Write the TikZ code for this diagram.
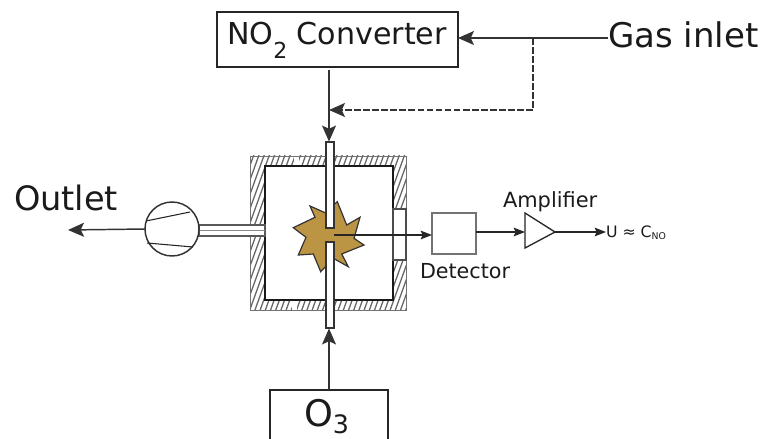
\documentclass[tikz,border=0pt]{standalone}
\usepackage{fontspec}
\setmainfont{DejaVu Sans}
\usetikzlibrary{arrows.meta}
\definecolor{txt}{HTML}{1A1A1A}
\definecolor{star}{HTML}{BC9544}
\tikzset{
  px/.style={x=0.75pt,y=-0.75pt},
  box/.style={draw=black!85,line width=1.5pt,fill=white,inner sep=0pt,outer sep=0pt,text=txt},
  part/.style={draw=black!80,line width=1.1pt,fill=white,inner sep=0pt,outer sep=0pt},
  lbl/.style={inner sep=0pt,outer sep=0pt,text=txt},
  flow/.style={draw=black!80,line width=1.1pt,-{Stealth[length=12pt,width=10.5pt,inset=2.5pt]}},
  flowsmall/.style={draw=black!85,line width=1.1pt,-{Stealth[length=8.5pt,width=6.5pt,inset=1.5pt]}},
  hatch/.style={draw=black!60,line width=0.95pt}
}
\begin{document}
\begin{tikzpicture}[px]
\useasboundingbox (0,0) rectangle (762,438);
\fill[white] (0,0) rectangle (762,438);
% chamber wall
\begin{scope}
  \clip (250,156) rectangle (406,310);
  \foreach \k in {0,5.2,...,260} {\draw[hatch] ({250+\k-70},316) -- ({250+\k-10},150);}
  \fill[white] (294,155) rectangle (299,167);
  \fill[white] (292,299) rectangle (297,311);
\end{scope}
\draw[draw=black!55,line width=0.7pt] (250,156) rectangle (406,310);
\draw[draw=black!90,line width=1.3pt,fill=white] (265,166) rectangle (393,300);
% star
\fill[star,draw=black!80,line width=0.9pt,line join=miter]
 (293.3,227.7) -- (315,217.3) -- (310,206) -- (325,212.7) -- (337.3,201.7) -- (346.7,225) -- (360,217.3) -- (354,238.3) -- (364,245) -- (341.7,254) -- (348.3,266.7) -- (333.3,258.3) -- (320.7,271.7) -- (313.3,254) -- (298.3,255) -- (306,237.3) -- cycle;
% tube and pump
\node[part,draw=black!65,minimum width=66*0.75pt,minimum height=11*0.75pt] (pipe) at (232,230.5) {};
\draw[draw=black!45,line width=0.6pt] (pipe.west) -- (pipe.east);
\node[part,circle,minimum size=54*0.75pt] (pump) at (172,229) {};
\draw[draw=black!85,line width=0.8pt] (146,221) -- (190,212) (147,243) -- (193,247);
% inlets
\node[part,minimum width=8*0.75pt,minimum height=86*0.75pt] (top) at (330,185) {};
\node[part,minimum width=8*0.75pt,minimum height=86*0.75pt] (bot) at (330,285) {};
\node[part,draw=black!70,minimum width=13*0.75pt,minimum height=51*0.75pt] (win) at (399.5,234.5) {};
% boxes
\node[box,minimum width=241*0.75pt,minimum height=55*0.75pt] (conv) at (337.5,39.5) {};
\node[lbl,font=\fontsize{22.6pt}{24pt}\selectfont,anchor=base west] at (227,45) {NO\raisebox{-10.5pt}{\fontsize{16.5pt}{18pt}\selectfont 2} Converter};
\node[box,minimum width=118*0.75pt,minimum height=52*0.75pt] (ozone) at (329,416) {};
\node[lbl,font=\fontsize{27.5pt}{29pt}\selectfont,anchor=base west] at (304,426.5) {O\raisebox{-5.3pt}{\fontsize{19pt}{20pt}\selectfont 3}};
\node[part,draw=black!55,minimum width=44*0.75pt,minimum height=41*0.75pt] (det) at (454,233.5) {};
\coordinate (ampin) at (525,232);
\coordinate (ampout) at (555,232);
\draw[draw=black!85,line width=1pt,fill=white,line join=miter] (525,213) -- (ampout) -- (525,248) -- cycle;
% labels
\node[lbl,font=\fontsize{25.5pt}{27pt}\selectfont,anchor=base west] (gas) at (608,48) {Gas inlet};
\node[lbl,font=\fontsize{25.2pt}{27pt}\selectfont,anchor=base west] (outlet) at (14,210) {Outlet};
\node[lbl,font=\fontsize{15.5pt}{18pt}\selectfont,anchor=base west] (detl) at (420,278) {Detector};
\node[lbl,font=\fontsize{15.7pt}{18pt}\selectfont,anchor=base west] (ampl) at (503,207) {Amplifier};
\node[lbl,font=\fontsize{11.8pt}{13pt}\selectfont,anchor=base west] (u) at (606,237) {U ≈ C\raisebox{-1.5pt}{\fontsize{7pt}{8pt}\selectfont NO}};
% connectors
\coordinate (junction) at (533,38);
\coordinate (dashcorner) at (533,110);
\coordinate (dashend) at (329,110);
\coordinate (pumpout) at (68,230);
\coordinate (beam) at (334,235);
\draw[flow] (gas.west |- junction) -- (conv.east |- junction);
\draw[draw=black!80,line width=1.1pt,dash pattern=on 5pt off 1.8pt] (junction) -- (dashcorner);
\draw[flow,dash pattern=on 5pt off 1.8pt] (dashcorner) -- (dashend);
\draw[flow] (329,70) -- (329,141.5);
\draw[flow] (329,390) -- (329,328.5);
\draw[flow] (pump.west) -- (pumpout);
\draw[flowsmall] (beam) -- (det.west |- beam);
\draw[flowsmall] (det.east |- ampin) -- (ampin);
\draw[flowsmall] (ampout) -- (u.west |- ampout);
\end{tikzpicture}
\end{document}
